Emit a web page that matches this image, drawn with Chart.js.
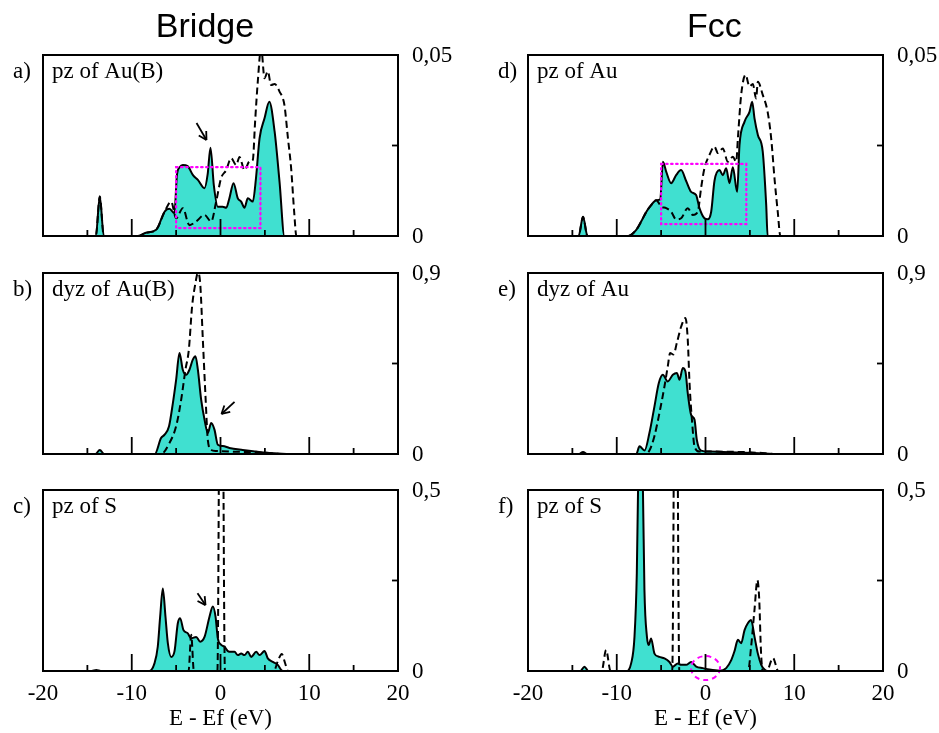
<!DOCTYPE html>
<html>
<head>
<meta charset="utf-8">
<script src="https://cdn.jsdelivr.net/npm/chart.js@4.4.0/dist/chart.umd.min.js"></script>
<style>
  body { margin: 0; background: #fff; width: 939px; height: 733px; position: relative; overflow: hidden; }
  canvas { position: absolute; }
</style>
</head>
<body>
<canvas id="pa"></canvas>
<canvas id="pb"></canvas>
<canvas id="pc"></canvas>
<canvas id="pd"></canvas>
<canvas id="pe"></canvas>
<canvas id="pf"></canvas>
<script>
// energie (eV) e valori
const aSolidE = [-20, -14.05, -13.6, -13.15, -9.3, -8.4, -7.25, -6.3, -5.75, -5.2, -4.9, -4.6, -4.25, -3.7, -3.1, -2.55, -1.8, -1.45, -1.13, -0.75, -0.3, 0.25, 0.65, 1.0, 1.47, 1.95, 2.33, 2.7, 3.08, 3.64, 4.0, 4.4, 4.96, 5.5, 6.1, 6.65, 7.2, 20];
const aSolidV = [0, 0, 0.0109, 0, 0, 0.0009, 0.0017, 0.0067, 0.0075, 0.0063, 0.017, 0.019, 0.0196, 0.0193, 0.0168, 0.0155, 0.0132, 0.017, 0.0244, 0.014, 0.0081, 0.0081, 0.0078, 0.0104, 0.0146, 0.0104, 0.0095, 0.0078, 0.0104, 0.0095, 0.016, 0.027, 0.0325, 0.0371, 0.0288, 0.015, 0, 0];
const aDashE = [-20, -14.05, -13.6, -13.15, -9.3, -8.4, -7.25, -6.3, -5.56, -5.0, -4.25, -3.5, -2.75, -1.8, -1.05, -0.49, 0.07, 0.64, 1.2, 1.77, 2.14, 2.7, 3.27, 3.64, 3.9, 4.2, 4.58, 4.96, 5.33, 5.7, 6.1, 6.65, 7.2, 7.6, 7.96, 8.3, 8.55, 20];
const aDashV = [0, 0, 0.0109, 0, 0, 0.0009, 0.0017, 0.0067, 0.0095, 0.0049, 0.0077, 0.003, 0.004, 0.0058, 0.004, 0.0095, 0.016, 0.0182, 0.0215, 0.0196, 0.0218, 0.0182, 0.0206, 0.021, 0.0316, 0.0426, 0.052, 0.0436, 0.0455, 0.0417, 0.042, 0.0399, 0.0362, 0.027, 0.0187, 0.0067, 0, 0];

const bSolidE = [-20, -14.1, -13.6, -13.1, -7.4, -6.7, -6.3, -5.8, -5.37, -5.0, -4.62, -4.25, -3.87, -3.5, -3.12, -2.82, -2.55, -2.18, -1.8, -1.43, -1.05, -0.68, -0.3, 0.26, 1.0, 2.5, 4.0, 5.2, 6.5, 7.8, 20];
const bSolidV = [0, 0, 0.02, 0, 0, 0.079, 0.096, 0.138, 0.252, 0.369, 0.502, 0.419, 0.394, 0.419, 0.469, 0.486, 0.419, 0.27, 0.171, 0.104, 0.154, 0.121, 0.046, 0.04, 0.03, 0.02, 0.012, 0.006, 0.003, 0, 0];
const bDashE = [-20, -6.7, -5.75, -5.0, -4.43, -3.95, -3.57, -3.2, -2.82, -2.55, -2.29, -1.99, -1.69, -1.43, -1.05, -0.5, 1.0, 3.0, 5.0, 7.0, 20];
const bDashV = [0, 0, 0.055, 0.138, 0.27, 0.419, 0.518, 0.734, 0.85, 0.9, 0.85, 0.569, 0.287, 0.071, 0.02, 0.015, 0.012, 0.01, 0.006, 0, 0];

const cSolidE = [-20, -14.5, -14.0, -13.5, -8.0, -7.44, -7.07, -6.8, -6.5, -6.2, -5.93, -5.56, -5.18, -4.81, -4.55, -4.17, -3.68, -3.31, -2.74, -2.29, -1.8, -1.24, -0.86, -0.56, -0.3, 0.08, 0.45, 0.83, 1.2, 1.58, 1.95, 2.33, 2.7, 3.08, 3.46, 4.02, 4.4, 4.96, 5.33, 5.9, 6.45, 6.84, 7.0, 20];
const cSolidV = [0, 0, 0.003, 0, 0, 0.021, 0.067, 0.15, 0.228, 0.15, 0.076, 0.039, 0.055, 0.132, 0.146, 0.113, 0.104, 0.09, 0.094, 0.081, 0.094, 0.15, 0.178, 0.15, 0.09, 0.072, 0.067, 0.055, 0.053, 0.053, 0.044, 0.048, 0.044, 0.053, 0.039, 0.053, 0.044, 0.055, 0.035, 0.025, 0.017, 0.003, 0, 0];
const cDashE = [-20, -3.6, -3.3, -3.0, -0.35, 0.07, 0.5, 6.0, 6.5, 6.9, 7.3, 7.6, 20];
const cDashV = [0, 0, 0.1, 0, 0, 1.6, 0, 0, 0.03, 0.047, 0.02, 0, 0];

const dSolidE = [-20, -14.3, -13.8, -13.3, -8.76, -7.8, -7.25, -6.66, -6.1, -5.55, -5.1, -4.8, -4.43, -3.87, -3.31, -2.75, -2.18, -1.62, -1.06, -0.68, -0.12, 0.26, 0.64, 1.01, 1.58, 1.95, 2.33, 2.7, 3.08, 3.57, 3.83, 4.4, 4.96, 5.26, 5.52, 5.9, 6.45, 6.84, 7.0, 20];
const dSolidV = [0, 0, 0.0053, 0, 0, 0.0017, 0.004, 0.0067, 0.0086, 0.0099, 0.0101, 0.0205, 0.0178, 0.0146, 0.0168, 0.0182, 0.0152, 0.0122, 0.0113, 0.0077, 0.0049, 0.0046, 0.0067, 0.0152, 0.0182, 0.0168, 0.0187, 0.0146, 0.019, 0.0122, 0.0251, 0.0316, 0.0343, 0.0371, 0.0325, 0.0279, 0.0233, 0.0086, 0, 0];
const dDashE = [-20, -14.3, -13.8, -13.3, -8.76, -7.8, -7.25, -6.66, -6.1, -5.55, -4.98, -4.43, -3.87, -3.31, -2.75, -2.0, -1.43, -0.87, -0.5, -0.12, 0.45, 1.01, 1.4, 1.95, 2.52, 3.08, 3.46, 3.65, 4.02, 4.51, 4.96, 5.33, 5.7, 5.9, 6.45, 7.0, 7.4, 7.8, 8.14, 8.44, 20];
const dDashV = [0, 0, 0.0053, 0, 0, 0.0017, 0.004, 0.0067, 0.0086, 0.0099, 0.0081, 0.0077, 0.0067, 0.0046, 0.0049, 0.0077, 0.0058, 0.0067, 0.0132, 0.0187, 0.0224, 0.0247, 0.0229, 0.0242, 0.0205, 0.0219, 0.0205, 0.027, 0.039, 0.0445, 0.0413, 0.042, 0.038, 0.0426, 0.039, 0.0343, 0.027, 0.0152, 0.0067, 0, 0];

const eSolidE = [-20, -14.3, -13.8, -13.3, -7.8, -7.44, -6.87, -6.32, -5.75, -5.26, -4.81, -4.25, -3.68, -3.23, -2.93, -2.56, -2.26, -2.0, -1.62, -1.24, -0.98, -0.49, 0.45, 2.0, 4.0, 6.0, 7.6, 20];
const eSolidV = [0, 0, 0.01, 0, 0, 0.038, 0.017, 0.104, 0.237, 0.353, 0.394, 0.361, 0.394, 0.403, 0.369, 0.428, 0.41, 0.303, 0.195, 0.171, 0.071, 0.017, 0.012, 0.01, 0.008, 0.004, 0, 0];
const eDashE = [-20, -6.87, -6.32, -5.75, -5.19, -4.62, -4.25, -3.99, -3.61, -3.23, -2.74, -2.26, -2.0, -1.8, -1.5, -1.24, -0.68, 1.0, 4.0, 6.0, 8.0, 20];
const eDashV = [0, 0, 0.017, 0.09, 0.204, 0.337, 0.436, 0.502, 0.495, 0.552, 0.634, 0.676, 0.569, 0.353, 0.154, 0.038, 0.012, 0.012, 0.01, 0.006, 0, 0];

const fSolidE = [-20, -14.1, -13.64, -13.2, -8.94, -8.38, -8.0, -7.74, -7.6, -7.35, -7.05, -6.88, -6.6, -6.4, -6.13, -5.75, -5.2, -4.62, -4.06, -3.68, -3.12, -2.74, -2.18, -1.62, -1.05, -0.3, 0.45, 1.58, 2.33, 2.9, 3.27, 3.65, 4.02, 4.4, 4.77, 5.14, 5.52, 5.9, 6.28, 6.65, 7.0, 20];
const fSolidV = [0, 0, 0.012, 0, 0, 0.021, 0.095, 0.27, 0.5, 0.7, 0.5, 0.224, 0.095, 0.072, 0.09, 0.048, 0.039, 0.035, 0.025, 0.012, 0.021, 0.017, 0.017, 0.025, 0.012, 0.008, 0.004, 0.001, 0.008, 0.03, 0.055, 0.086, 0.077, 0.113, 0.132, 0.141, 0.095, 0.048, 0.017, 0.004, 0, 0];
const fDashE = [-20, -11.7, -11.2, -10.7, -3.75, -3.35, -2.95, 4.8, 5.14, 5.52, 5.85, 6.05, 6.25, 6.45, 6.9, 7.6, 8.2, 20];
const fDashV = [0, 0, 0.058, 0, 0, 1.4, 0, 0, 0.067, 0.169, 0.251, 0.2, 0.055, 0, 0, 0.036, 0, 0];

const xTicks = [-15, -10, -5, 0, 5, 10, 15];
const xTickLabels = [-20, -10, 0, 10, 20];
const yMaxAu = 0.05, yMaxD = 0.9, yMaxS = 0.5;

const SERIF = '"Liberation Serif", "Times New Roman", serif';

function line(ctx, x1, y1, x2, y2) {
    ctx.beginPath(); ctx.moveTo(x1, y1); ctx.lineTo(x2, y2); ctx.stroke();
}

// decorazioni del pannello: cornice, tacche, testi, frecce
const panelDeco = {
    id: 'panelDeco',
    afterDatasetsDraw(chart, args, o) {
        const { ctx, chartArea: a, scales: { x, y } } = chart;
        ctx.save();

        if (o.box) {
            const [e1, e2, v1, v2] = o.box;
            ctx.strokeStyle = '#ff00ff';
            ctx.lineWidth = 2.2;
            ctx.setLineDash([1.5, 3.5]);
            ctx.lineCap = 'round';
            const x1 = x.getPixelForValue(e1), x2 = x.getPixelForValue(e2);
            const y1 = y.getPixelForValue(v1), y2 = y.getPixelForValue(v2);
            ctx.strokeRect(x1, y2, x2 - x1, y1 - y2);
            ctx.setLineDash([]);
            ctx.lineCap = 'butt';
        }
        if (o.ring) {
            ctx.strokeStyle = '#ff00ff';
            ctx.lineWidth = 2;
            ctx.setLineDash([5, 4]);
            ctx.beginPath();
            ctx.ellipse(x.getPixelForValue(o.ring[0]), y.getPixelForValue(o.ring[1]), 14.5, 12, 0, 0, Math.PI * 2);
            ctx.stroke();
            ctx.setLineDash([]);
        }

        ctx.strokeStyle = '#000';
        ctx.lineWidth = 1.8;
        xTicks.forEach(v => {
            const px = x.getPixelForValue(v);
            line(ctx, px, a.bottom, px, a.bottom - (v % 10 === 0 ? 17 : 6));
        });
        const my = y.getPixelForValue(o.yMax / 2);
        line(ctx, a.right, my, a.right - 6, my);

        ctx.lineWidth = 2;
        ctx.strokeRect(a.left, a.top, a.right - a.left, a.bottom - a.top);

        if (o.arrow) {
            const [e1, v1, e2, v2] = o.arrow;
            const x1 = x.getPixelForValue(e1), y1 = y.getPixelForValue(v1);
            const x2 = x.getPixelForValue(e2), y2 = y.getPixelForValue(v2);
            const ang = Math.atan2(y2 - y1, x2 - x1);
            ctx.lineWidth = 1.8;
            line(ctx, x1, y1, x2, y2);
            [-0.5, 0.5].forEach(d => {
                line(ctx, x2, y2, x2 - 9 * Math.cos(ang + d), y2 - 9 * Math.sin(ang + d));
            });
        }

        ctx.fillStyle = '#000';
        ctx.font = '23px ' + SERIF;
        ctx.textBaseline = 'alphabetic';
        ctx.textAlign = 'left';
        ctx.fillText(o.letter, a.left - 30, a.top + 23);
        ctx.fillText(o.label, a.left + 9, a.top + 23);

        ctx.textBaseline = 'middle';
        ctx.fillText(o.yTop, a.right + 14, a.top + 1);
        ctx.fillText('0', a.right + 14, a.bottom + 1);

        if (o.xAxis) {
            ctx.textAlign = 'center';
            ctx.textBaseline = 'alphabetic';
            xTickLabels.forEach(v => ctx.fillText(String(v), x.getPixelForValue(v), a.bottom + 29));
            ctx.fillText('E - Ef (eV)', (a.left + a.right) / 2, a.bottom + 54);
        }
        if (o.title) {
            ctx.textAlign = 'center';
            ctx.textBaseline = 'alphabetic';
            ctx.font = '34px "Liberation Sans", Arial, sans-serif';
            ctx.fillText(o.title[0], x.getPixelForValue(o.title[1]), a.top - 18);
        }
        ctx.restore();
    }
};

function pts(es, vs) { return es.map((e, i) => ({ x: e, y: vs[i] })); }

function makePanel(id, box, pad, yMax, sE, sV, dE, dV, deco) {
    const cv = document.getElementById(id);
    cv.width = box[2]; cv.height = box[3];
    cv.style.left = box[0] + 'px'; cv.style.top = box[1] + 'px';
    cv.style.width = box[2] + 'px'; cv.style.height = box[3] + 'px';
    deco.yMax = yMax;
    return new Chart(cv, {
        type: 'line',
        data: {
            datasets: [{
                data: pts(dE, dV),
                borderColor: '#000',
                borderWidth: 2,
                borderDash: [7, 4],
                fill: false,
                pointRadius: 0,
                cubicInterpolationMode: 'monotone',
                order: 0
            }, {
                data: pts(sE, sV),
                borderColor: '#000',
                borderWidth: 2,
                backgroundColor: '#40e0d0',
                fill: 'origin',
                pointRadius: 0,
                cubicInterpolationMode: 'monotone',
                order: 1
            }]
        },
        options: {
            responsive: false,
            animation: false,
            devicePixelRatio: 1,
            events: [],
            layout: { padding: pad },
            scales: {
                x: { type: 'linear', min: -20, max: 20, display: false },
                y: { type: 'linear', min: 0, max: yMax, display: false }
            },
            plugins: { legend: { display: false }, tooltip: { enabled: false }, panelDeco: deco }
        },
        plugins: [panelDeco]
    });
}

const padL = { left: 43, right: 72 }, padR = { left: 58, right: 56 };

makePanel('pa', [0, 0, 470, 255], { ...padL, top: 55, bottom: 19 }, yMaxAu, aSolidE, aSolidV, aDashE, aDashV,
    { letter: 'a)', label: 'pz of Au(B)', yTop: '0,05', title: ['Bridge', -1.75], box: [-5, 4.5, 0.0022, 0.019], arrow: [-2.7, 0.0312, -1.58, 0.0265] });
makePanel('pb', [0, 255, 470, 220], { ...padL, top: 18, bottom: 21 }, yMaxD, bSolidE, bSolidV, bDashE, bDashV,
    { letter: 'b)', label: 'dyz of Au(B)', yTop: '0,9', arrow: [1.58, 0.259, 0.11, 0.199] });
makePanel('pc', [0, 475, 470, 258], { ...padL, top: 15, bottom: 62 }, yMaxS, cSolidE, cSolidV, cDashE, cDashV,
    { letter: 'c)', label: 'pz of S', yTop: '0,5', xAxis: true, arrow: [-2.59, 0.215, -1.69, 0.182] });
makePanel('pd', [470, 0, 469, 255], { ...padR, top: 55, bottom: 19 }, yMaxAu, dSolidE, dSolidV, dDashE, dDashV,
    { letter: 'd)', label: 'pz of Au', yTop: '0,05', title: ['Fcc', 1.0], box: [-5, 4.6, 0.0033, 0.0199] });
makePanel('pe', [470, 255, 469, 220], { ...padR, top: 18, bottom: 21 }, yMaxD, eSolidE, eSolidV, eDashE, eDashV,
    { letter: 'e)', label: 'dyz of Au', yTop: '0,9' });
makePanel('pf', [470, 475, 469, 258], { ...padR, top: 15, bottom: 62 }, yMaxS, fSolidE, fSolidV, fDashE, fDashV,
    { letter: 'f)', label: 'pz of S', yTop: '0,5', xAxis: true, ring: [0, 0.008] });
</script>
</body>
</html>
